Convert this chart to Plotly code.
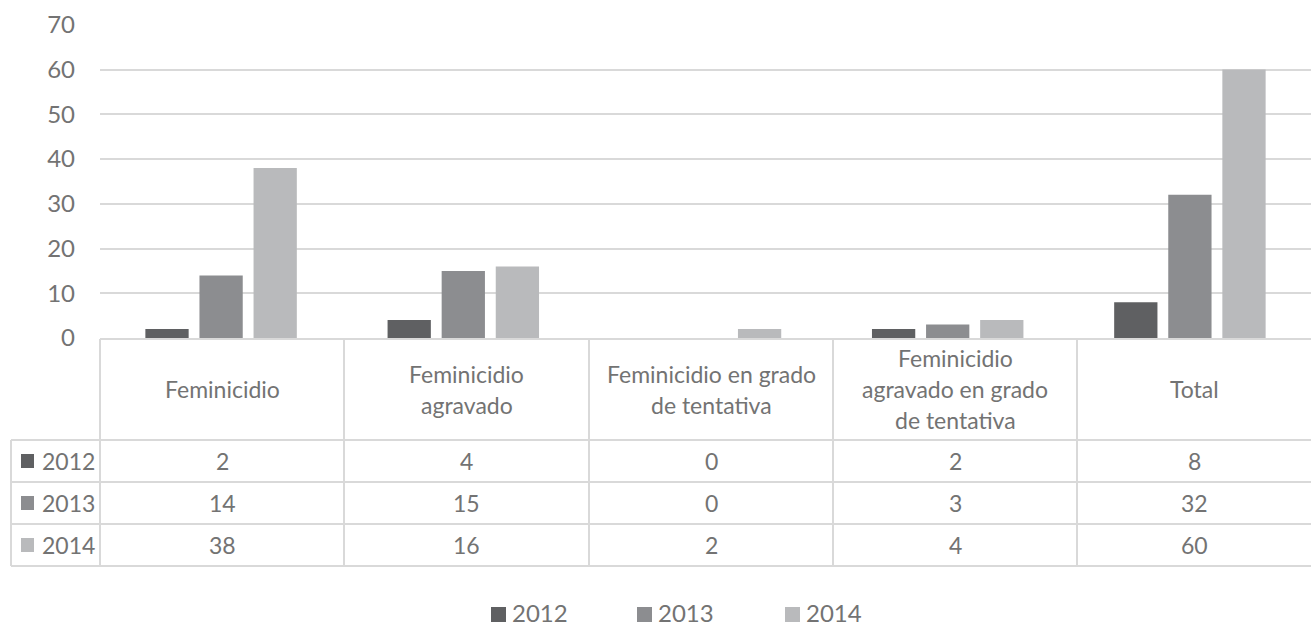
import plotly.graph_objects as go

categories = ["Feminicidio", "Feminicidio<br>agravado", "Feminicidio en grado<br>de tentativa",
              "Feminicidio<br>agravado en grado<br>de tentativa", "Total"]
years = ["2012", "2013", "2014"]
v2012 = [2, 4, 0, 2, 8]
v2013 = [14, 15, 0, 3, 32]
v2014 = [38, 16, 2, 4, 60]
y_ticks = [0, 10, 20, 30, 40, 50, 60, 70]

series = [v2012, v2013, v2014]
colors = ["#5f6062", "#8c8d90", "#b9babc"]
TXT = "#737373"
LINE = "#d9d9d9"
FONT = "Lato, Open Sans, sans-serif"

W, H = 1311, 626
L, R = 100, 1311
T, B = 24, 338

def px_x(x):
    return (x - L) / (R - L)

def px_y(y):
    return (B - y) / (B - T)

fig = go.Figure()
xs = list(range(len(categories)))
for yr, vals, c in zip(years, series, colors):
    fig.add_trace(go.Bar(x=xs, y=vals, name=yr, marker=dict(color=c, line=dict(width=0)),
                         showlegend=False))

shapes = []
annotations = []

col_edges = [100, 344, 589, 833, 1077, 1311]
row_edges = [440, 482, 524, 566]

def hline(x0, x1, y):
    shapes.append(dict(type="line", xref="paper", yref="paper", x0=px_x(x0), x1=px_x(x1),
                       y0=px_y(y), y1=px_y(y), line=dict(color=LINE, width=2)))

def vline(x, y0, y1):
    shapes.append(dict(type="line", xref="paper", yref="paper", x0=px_x(x), x1=px_x(x),
                       y0=px_y(y0), y1=px_y(y1), line=dict(color=LINE, width=2)))

hline(100, 1311, 339)
for ry in row_edges:
    hline(11, 1311, ry)
vline(11, 440, 566)
vline(100, 339, 566)
for cx in col_edges[1:-1]:
    vline(cx, 339, 566)

# header text, one annotation per line for exact line spacing
LS = 31
for i, cat in enumerate(categories):
    cxm = (col_edges[i] + col_edges[i + 1]) / 2
    lines = cat.split("<br>")
    n = len(lines)
    for k, ln in enumerate(lines):
        cy = 389 + (k - (n - 1) / 2) * LS
        annotations.append(dict(xref="paper", yref="paper", x=px_x(cxm), y=px_y(cy), text=ln,
                                showarrow=False, xanchor="center", yanchor="middle",
                                font=dict(family=FONT, size=23, color=TXT)))

# value rows
for r, (yr, vals, c) in enumerate(zip(years, series, colors)):
    cy = (row_edges[r] + row_edges[r + 1]) / 2
    for i, v in enumerate(vals):
        cxm = (col_edges[i] + col_edges[i + 1]) / 2
        annotations.append(dict(xref="paper", yref="paper", x=px_x(cxm), y=px_y(cy), text=str(v),
                                showarrow=False, xanchor="center", yanchor="middle",
                                font=dict(family=FONT, size=23, color=TXT)))
    shapes.append(dict(type="rect", xref="paper", yref="paper", x0=px_x(21), x1=px_x(34),
                       y0=px_y(cy - 7), y1=px_y(cy + 7), fillcolor=c, line=dict(width=0)))
    annotations.append(dict(xref="paper", yref="paper", x=px_x(40), y=px_y(cy), text=yr,
                            showarrow=False, xanchor="left", yanchor="middle",
                            font=dict(family=FONT, size=23, color=TXT)))

# legend
leg_x = [491, 637, 785]
for yr, c, lx in zip(years, colors, leg_x):
    shapes.append(dict(type="rect", xref="paper", yref="paper", x0=px_x(lx), x1=px_x(lx + 15),
                       y0=px_y(622), y1=px_y(607), fillcolor=c, line=dict(width=0)))
    annotations.append(dict(xref="paper", yref="paper", x=px_x(lx + 19), y=px_y(612), text=yr,
                            showarrow=False, xanchor="left", yanchor="middle",
                            font=dict(family=FONT, size=24, color=TXT)))

fig.update_layout(
    width=W, height=H,
    margin=dict(l=L, r=W - R, t=T, b=H - B, pad=0),
    paper_bgcolor="white", plot_bgcolor="white",
    barmode="group", bargap=0.33, bargroupgap=0.2,
    xaxis=dict(range=[-0.5, 4.5], showticklabels=False, showgrid=False, zeroline=False,
               showline=False, fixedrange=True),
    yaxis=dict(range=[0, 70.2], tickvals=y_ticks, showgrid=True, gridcolor=LINE, gridwidth=2,
               zeroline=False, showline=False, ticks="", ticklabelstandoff=24,
               tickfont=dict(family=FONT, size=24, color=TXT)),
    shapes=shapes, annotations=annotations,
    font=dict(family=FONT, color=TXT),
)

fig.write_html("out.html", config={"displayModeBar": False},
               post_script="document.body.style.margin='0';document.body.style.overflow='hidden';")
